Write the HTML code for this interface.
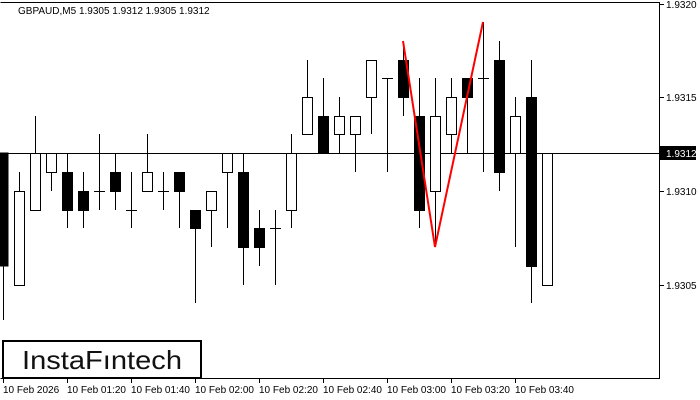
<!DOCTYPE html>
<html><head><meta charset="utf-8"><style>
html,body{margin:0;padding:0;background:#fff;}
svg{display:block;font-family:"Liberation Sans","DejaVu Sans",sans-serif;}
</style></head><body>
<svg width="700" height="400" viewBox="0 0 700 400" xmlns="http://www.w3.org/2000/svg">
<rect width="700" height="400" fill="#fff"/>
<g stroke="#000" stroke-width="1" fill="none" shape-rendering="crispEdges">
<path d="M0.5 2.5H659.5V378.5H0.5"/>
<path d="M0 153.5H659"/>
<path d="M659 4.5H664M659 97.5H664M659 191.5H664M659 285.5H664"/>
<path d="M3.5 379V383M67.5 379V383M131.5 379V383M195.5 379V383M259.5 379V383M323.5 379V383M387.5 379V383M451.5 379V383M515.5 379V383"/>
</g>
<g id="c" stroke="#000" stroke-width="1" shape-rendering="crispEdges">
<!-- wicks -->
<path d="M3.5 153V320M19.5 172V191M35.5 116V153M51.5 172V191M67.5 153V228M83.5 172V228M99.5 134V210M115.5 153V210M131.5 172V228M147.5 134V172M163.5 172V210M179.5 191V228M195.5 228V303M211.5 210V247M227.5 172V228M243.5 153V285M259.5 210V266M275.5 210V285M291.5 134V153M291.5 210V228M307.5 60V97M323.5 78V116M339.5 97V116M339.5 134V153M355.5 134V172M371.5 97V134M387.5 78V172M403.5 41V116M419.5 78V228M435.5 78V116M435.5 191V247M451.5 78V97M451.5 134V153M467.5 97V153M483.5 22V172M499.5 41V191M515.5 97V116M515.5 153V247M531.5 60V303"/>
<!-- doji -->
<path d="M94 191.5H105M126 210.5H137M158 191.5H169M270 228.5H281M382 78.5H393M478 78.5H489"/>
<!-- black bodies -->
<g fill="#000">
<rect x="0" y="153" width="8" height="113"/>
<rect x="62.5" y="172.5" width="10" height="38"/>
<rect x="78.5" y="191.5" width="10" height="19"/>
<rect x="110.5" y="172.5" width="10" height="19"/>
<rect x="174.5" y="172.5" width="10" height="19"/>
<rect x="190.5" y="210.5" width="10" height="18"/>
<rect x="238.5" y="172.5" width="10" height="75"/>
<rect x="254.5" y="228.5" width="10" height="19"/>
<rect x="318.5" y="116.5" width="10" height="37"/>
<rect x="398.5" y="60.5" width="10" height="37"/>
<rect x="414.5" y="116.5" width="10" height="94"/>
<rect x="462.5" y="78.5" width="10" height="19"/>
<rect x="494.5" y="60.5" width="10" height="112"/>
<rect x="526.5" y="97.5" width="10" height="169"/>
</g>
<g fill="#fff">
<rect x="14.5" y="191.5" width="10" height="94"/>
<rect x="30.5" y="153.5" width="10" height="57"/>
<rect x="46.5" y="153.5" width="10" height="19"/>
<rect x="142.5" y="172.5" width="10" height="19"/>
<rect x="206.5" y="191.5" width="10" height="19"/>
<rect x="222.5" y="153.5" width="10" height="19"/>
<rect x="286.5" y="153.5" width="10" height="57"/>
<rect x="302.5" y="97.5" width="10" height="37"/>
<rect x="334.5" y="116.5" width="10" height="18"/>
<rect x="350.5" y="116.5" width="10" height="18"/>
<rect x="366.5" y="60.5" width="10" height="37"/>
<rect x="430.5" y="116.5" width="10" height="75"/>
<rect x="446.5" y="97.5" width="10" height="37"/>
<rect x="510.5" y="116.5" width="10" height="37"/>
<rect x="542.5" y="153.5" width="10" height="132"/>
</g>
</g>
<polyline points="403,41 435,247 483,22" fill="none" stroke="#f00" stroke-width="2"/>
<text x="18" y="14" font-size="10" fill="#000">GBPAUD,M5  1.9305 1.9312 1.9305 1.9312</text>
<g font-size="10" fill="#000">
<text x="666" y="8">1.9320</text>
<text x="666" y="101">1.9315</text>
<text x="666" y="195">1.9310</text>
<text x="666" y="289">1.9305</text>
</g>
<rect x="660" y="146" width="36" height="14" fill="#000"/>
<text x="666" y="157" font-size="10" fill="#fff">1.9312</text>
<g font-size="10" fill="#000">
<text x="3" y="393">10 Feb 2026</text>
<text x="67" y="393">10 Feb 01:20</text>
<text x="131" y="393">10 Feb 01:40</text>
<text x="195" y="393">10 Feb 02:00</text>
<text x="259" y="393">10 Feb 02:20</text>
<text x="323" y="393">10 Feb 02:40</text>
<text x="387" y="393">10 Feb 03:00</text>
<text x="451" y="393">10 Feb 03:20</text>
<text x="515" y="393">10 Feb 03:40</text>
</g>
<rect x="3" y="341" width="198" height="37" fill="#fff" stroke="#000" stroke-width="2"/>
<text x="102" y="369" font-size="26" text-anchor="middle" fill="#111" textLength="160" lengthAdjust="spacingAndGlyphs">InstaFıntech</text>
</svg>
</body></html>
